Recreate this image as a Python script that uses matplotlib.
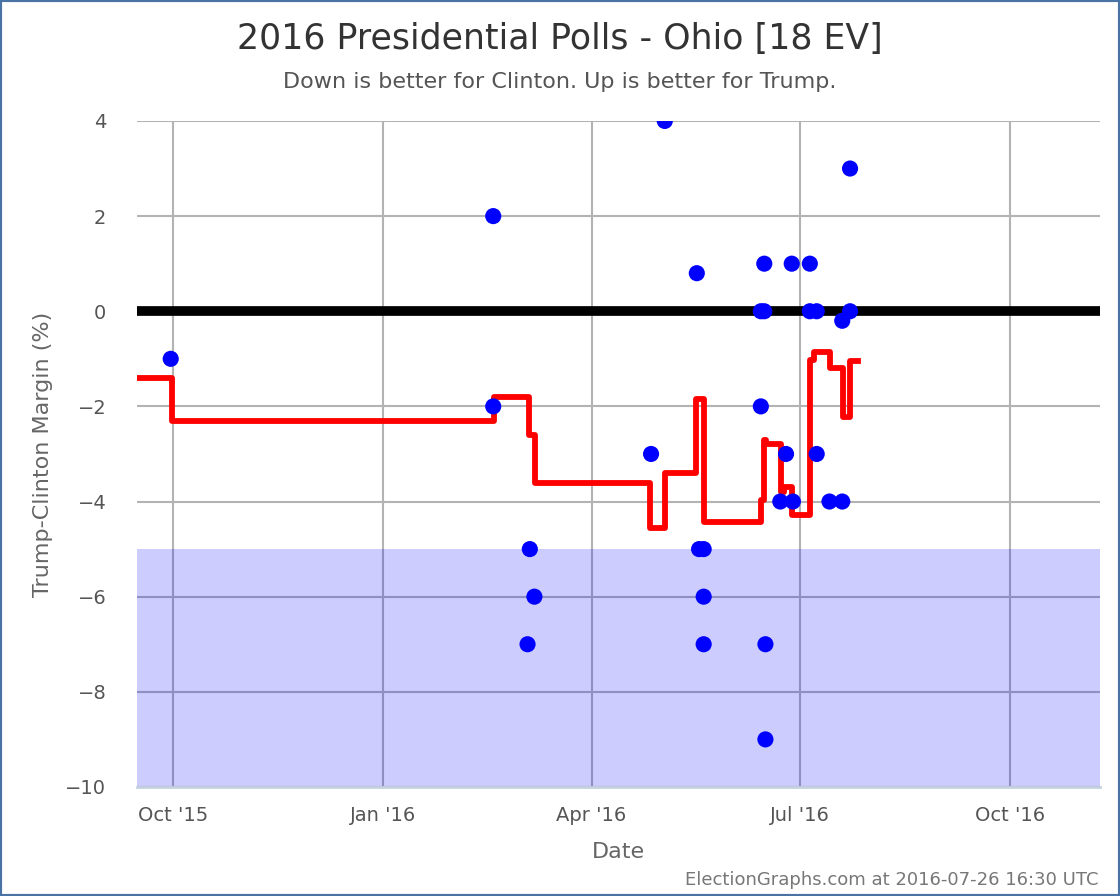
import matplotlib
matplotlib.use("Agg")
import matplotlib.pyplot as plt
import matplotlib.dates as mdates
from matplotlib.patches import Rectangle
import pandas as pd

plt.rcParams['font.family'] = ['Liberation Sans Narrow', 'DejaVu Sans']

# individual polls (date, Trump-Clinton margin)
poll_dates = ['2015-09-30', '2016-02-18', '2016-02-18', '2016-03-04', '2016-03-05',
              '2016-03-07', '2016-04-27', '2016-05-03', '2016-05-17', '2016-05-18',
              '2016-05-20', '2016-05-20', '2016-05-20', '2016-06-14', '2016-06-14',
              '2016-06-15 12:00', '2016-06-15 12:00', '2016-06-16', '2016-06-16',
              '2016-06-22 12:00', '2016-06-25', '2016-06-27 12:00', '2016-06-28',
              '2016-07-05 10:00', '2016-07-05 10:00', '2016-07-08 10:00',
              '2016-07-08 10:00', '2016-07-14', '2016-07-19 14:00', '2016-07-19 14:00',
              '2016-07-23', '2016-07-23']
poll_margins = [-1, 2, -2, -7, -5,
                -6, -3, 4, 0.8, -5,
                -5, -6, -7, 0, -2,
                1, 0, -7, -9,
                -4, -3, 1, -4,
                1, 0, 0,
                -3, -4, -0.2, -4,
                3, 0]

# poll average (changes at each date)
avg_dates = ['2015-09-15', '2015-09-30 15:00', '2016-02-18 12:00', '2016-03-04 12:00',
             '2016-03-07 10:00', '2016-04-26 16:00', '2016-05-02 22:00', '2016-05-16 16:00',
             '2016-05-20 08:00', '2016-06-14 05:00', '2016-06-15 08:00', '2016-06-16 10:00',
             '2016-06-22 22:00', '2016-06-24 08:00', '2016-06-27 14:00', '2016-07-05 14:00',
             '2016-07-07 10:00', '2016-07-14 10:00', '2016-07-19 20:00', '2016-07-23 02:00',
             '2016-07-26 16:00']
avg_values = [-1.4, -2.3, -1.8, -2.6,
              -3.6, -4.55, -3.4, -1.85,
              -4.42, -3.97, -2.7, -2.8,
              -3.8, -3.7, -4.28, -1.02,
              -0.85, -1.2, -2.23, -1.05,
              -1.05]

x_ticks = ['2015-10-01', '2016-01-01', '2016-04-01', '2016-07-01', '2016-10-01']
y_ticks = [4, 2, 0, -2, -4, -6, -8, -10]

poll_dates = pd.to_datetime(poll_dates, format='mixed')
avg_dates = pd.to_datetime(avg_dates, format='mixed')

fig = plt.figure(figsize=(11.2, 8.96), dpi=100)
ax = fig.add_axes([0.1223, 0.1217, 0.8598, 0.7433])

x0 = pd.Timestamp('2015-09-15 06:00')
x1 = pd.Timestamp('2016-11-09 06:00')
ax.set_xlim(x0, x1)
ax.set_ylim(-10, 4)

# clinton "strong" zone
ax.axhspan(-10, -5, color='blue', alpha=0.2, lw=0, zorder=2)
ax.axhline(0, color='black', lw=7, zorder=3)

ax.step(avg_dates, avg_values, where='post', color='red', lw=4.2, zorder=4)
ax.scatter(poll_dates, poll_margins, s=135, color='blue', edgecolors='none', zorder=5)

ax.set_xticks(pd.to_datetime(x_ticks))
ax.xaxis.set_major_formatter(mdates.DateFormatter("%b '%y"))
ax.set_yticks(y_ticks)
ax.grid(True, color='#b3b3b3', lw=1.5, zorder=1)
ax.set_axisbelow(True)
ax.tick_params(length=0, labelsize=14, labelcolor='#555555')
ax.tick_params(axis='y', pad=22)
ax.tick_params(axis='x', pad=14)

for s in ['top', 'right', 'left']:
    ax.spines[s].set_visible(False)
ax.spines['bottom'].set_color('#c5d3e0')
ax.spines['bottom'].set_linewidth(2)

ax.set_xlabel('Date', fontsize=16, color='#666666', labelpad=12)
ax.set_ylabel('Trump-Clinton Margin (%)', fontsize=16, color='#666666', labelpad=9)

fig.text(0.5, 0.957, '2016 Presidential Polls - Ohio [18 EV]', ha='center', va='center',
         fontsize=25, color='#333333')
fig.text(0.5, 0.909, 'Down is better for Clinton. Up is better for Trump.', ha='center',
         va='center', fontsize=16, color='#555555')
fig.text(0.981, 0.018, 'ElectionGraphs.com at 2016-07-26 16:30 UTC', ha='right',
         va='center', fontsize=13, color='#777777')

fig.patches.append(Rectangle((0, 0), 1, 1, transform=fig.transFigure, fill=False,
                             edgecolor='#4a72a5', lw=3))

fig.savefig('out.png', dpi=100)
